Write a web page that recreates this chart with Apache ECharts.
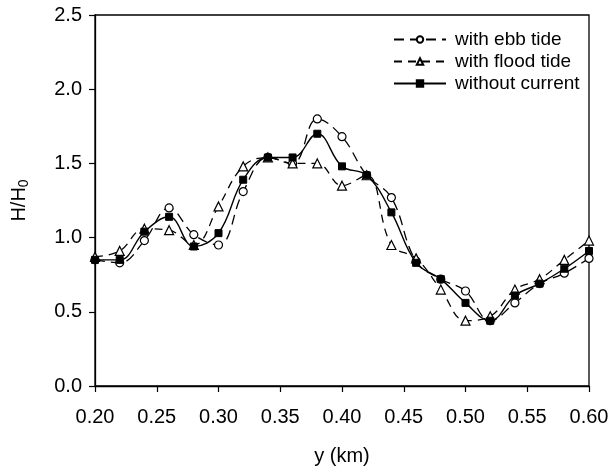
<!DOCTYPE html>
<html>
<head>
<meta charset="utf-8">
<script src="https://cdn.jsdelivr.net/npm/echarts@6/dist/echarts.min.js"></script>
<style>
  html, body { margin: 0; padding: 0; background: #fff; }
  #chart { width: 616px; height: 472px; }
</style>
</head>
<body>
<div id="chart"></div>
<script>
// distance along the section (km)
var yKm = [0.20, 0.22, 0.24, 0.26, 0.28, 0.30, 0.32, 0.34, 0.36, 0.38, 0.40,
           0.42, 0.44, 0.46, 0.48, 0.50, 0.52, 0.54, 0.56, 0.58, 0.60]
// H/H0 for each case
var ebbTide = [0.85, 0.83, 0.98, 1.20, 1.02, 0.95, 1.31, 1.54, 1.50, 1.80, 1.68,
               1.42, 1.27, 0.84, 0.72, 0.64, 0.44, 0.56, 0.69, 0.76, 0.86]
var floodTide = [0.87, 0.91, 1.06, 1.05, 0.95, 1.21, 1.48, 1.54, 1.50, 1.50, 1.35,
                 1.42, 0.95, 0.86, 0.65, 0.44, 0.47, 0.65, 0.72, 0.85, 0.98]
var noCurrent = [0.85, 0.85, 1.04, 1.14, 0.94, 1.03, 1.39, 1.54, 1.54, 1.70, 1.48,
                 1.42, 1.17, 0.83, 0.72, 0.56, 0.44, 0.61, 0.69, 0.79, 0.91]

function pairs (vals) {
  return yKm.map(function (x, i) { return [x, vals[i]] })
}

var font = 'Liberation Sans, Arial, sans-serif'
var chart = echarts.init(document.getElementById('chart'))

chart.setOption({
  animation: false,
  backgroundColor: '#fff',
  grid: { left: 95, right: 27, top: 15, bottom: 86, show: true, borderColor: '#000', borderWidth: 1.3 },
  legend: {
    left: 388,
    top: 25,
    orient: 'vertical',
    itemWidth: 52,
    itemHeight: 8,
    itemGap: 3,
    textStyle: { fontFamily: font, fontSize: 19, color: '#000', padding: [0, 0, 0, 4] },
    data: ['with ebb tide', 'with flood tide', 'without current']
  },
  xAxis: {
    type: 'value',
    min: 0.2,
    max: 0.6,
    interval: 0.05,
    name: 'y (km)',
    nameLocation: 'middle',
    nameGap: 60,
    nameTextStyle: { fontFamily: font, fontSize: 20, color: '#000' },
    axisLine: { lineStyle: { color: '#000', width: 1.3 } },
    axisTick: { inside: false, length: 6, lineStyle: { color: '#000', width: 1.2 } },
    axisLabel: {
      margin: 21,
      fontFamily: font, fontSize: 20, color: '#000',
      formatter: function (v) { return v.toFixed(2) }
    },
    splitLine: { show: false }
  },
  yAxis: {
    type: 'value',
    min: 0,
    max: 2.5,
    interval: 0.5,
    name: 'H/H{sub|0}',
    nameLocation: 'middle',
    nameRotate: 90,
    nameGap: 64,
    nameTextStyle: {
      fontFamily: font, fontSize: 20, color: '#000',
      rich: { sub: { fontFamily: font, fontSize: 14, color: '#000', verticalAlign: 'bottom', padding: [9, 0, 0, 0] } }
    },
    axisLine: { lineStyle: { color: '#000', width: 1.3 } },
    axisTick: { inside: false, length: 6, lineStyle: { color: '#000', width: 1.2 } },
    axisLabel: {
      margin: 13,
      fontFamily: font, fontSize: 20, color: '#000',
      formatter: function (v) { return v.toFixed(1) }
    },
    splitLine: { show: false }
  },
  series: [
    {
      name: 'with ebb tide',
      type: 'line',
      smooth: 0.4,
      data: pairs(ebbTide),
      symbol: 'circle',
      symbolSize: 8,
      itemStyle: { color: '#fff', borderColor: '#000', borderWidth: 1.2 },
      lineStyle: { color: '#000', width: 1.3, type: [10, 6] }
    },
    {
      name: 'with flood tide',
      type: 'line',
      smooth: 0.4,
      data: pairs(floodTide),
      symbol: 'triangle',
      symbolSize: 9,
      itemStyle: { color: '#fff', borderColor: '#000', borderWidth: 1.2 },
      lineStyle: { color: '#000', width: 1.3, type: [8, 6] }
    },
    {
      name: 'without current',
      type: 'line',
      smooth: 0.4,
      data: pairs(noCurrent),
      symbol: 'rect',
      symbolSize: 7,
      itemStyle: { color: '#000', borderColor: '#000', borderWidth: 1 },
      lineStyle: { color: '#000', width: 1.4, type: 'solid' }
    }
  ]
})
</script>
</body>
</html>
